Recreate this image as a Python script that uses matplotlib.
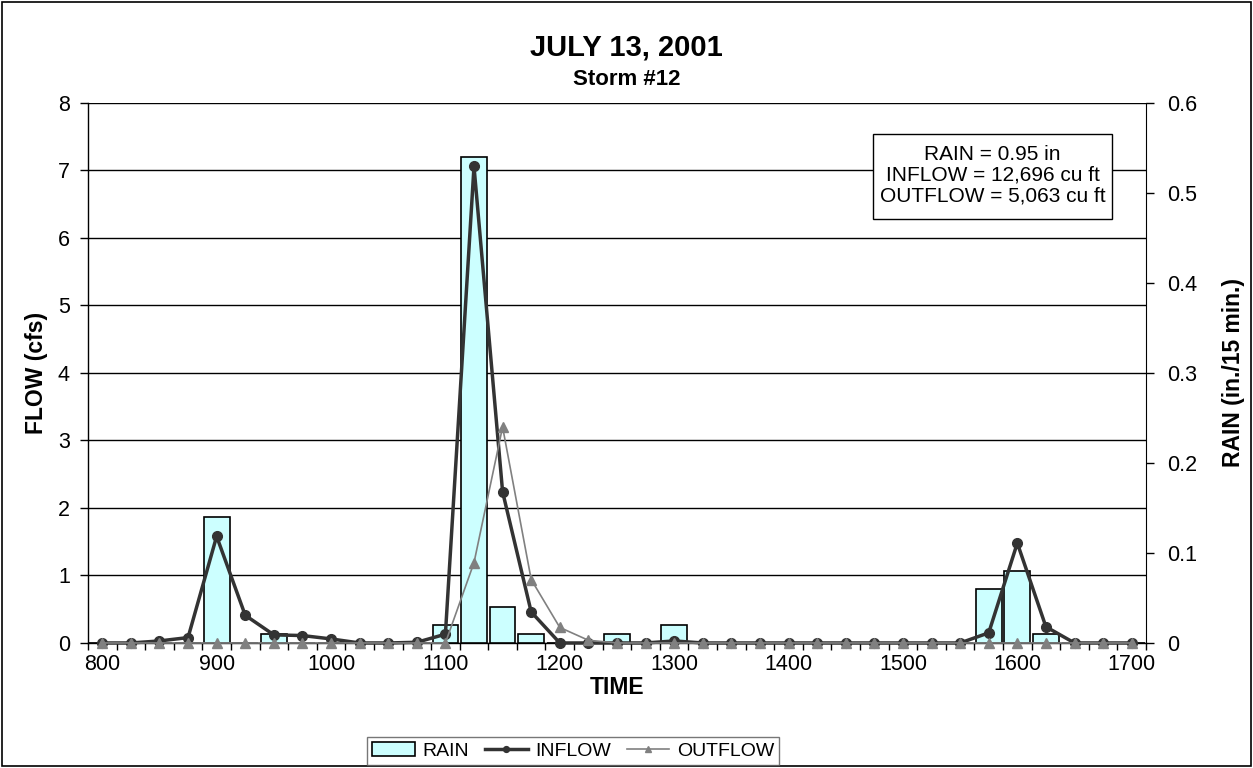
import numpy as np
import matplotlib.pyplot as plt
from matplotlib.patches import Rectangle

plt.rcParams['font.family'] = ['Liberation Sans', 'DejaVu Sans']

# 15-minute time steps (HHMM)
times = [800, 815, 830, 845, 900, 915, 930, 945, 1000, 1015, 1030, 1045,
         1100, 1115, 1130, 1145, 1200, 1215, 1230, 1245, 1300, 1315, 1330, 1345,
         1400, 1415, 1430, 1445, 1500, 1515, 1530, 1545, 1600, 1615, 1630, 1645,
         1700]
# rain in in./15 min
rain = [0, 0, 0, 0, 0.14, 0, 0.01, 0, 0, 0, 0, 0,
        0.02, 0.54, 0.04, 0.01, 0, 0, 0.01, 0, 0.02, 0, 0, 0,
        0, 0, 0, 0, 0, 0, 0, 0.06, 0.08, 0.01, 0, 0,
        0]
# flows in cfs
inflow = [0, 0, 0.03, 0.08, 1.58, 0.41, 0.12, 0.11, 0.06, 0, 0, 0.01,
          0.13, 7.06, 2.24, 0.46, 0, 0, 0, 0, 0.03, 0, 0, 0,
          0, 0, 0, 0, 0, 0, 0, 0.15, 1.48, 0.24, 0, 0,
          0]
outflow = [0, 0, 0, 0, 0, 0, 0, 0, 0, 0, 0, 0,
           0, 1.19, 3.2, 0.94, 0.23, 0.04, 0, 0, 0, 0, 0, 0,
           0, 0, 0, 0, 0, 0, 0, 0, 0, 0, 0, 0,
           0]
summary = 'RAIN = 0.95 in\nINFLOW = 12,696 cu ft\nOUTFLOW = 5,063 cu ft'

x = np.arange(len(times))

fig = plt.figure(figsize=(12.53, 7.68), dpi=100)
ax1 = fig.add_axes([0.0702, 0.1628, 0.8444, 0.7031])

# left axis: grid + ticks
ax1.set_xlim(-0.5, len(times) - 0.5)
ax1.set_ylim(0, 8)
ax1.set_yticks(range(0, 9))
ax1.yaxis.grid(True, color='black', linewidth=1)
ax1.set_axisbelow(True)
ax1.set_xticks(x[::4])
ax1.set_xticklabels([str(t) for t in times[::4]])
ax1.set_xticks(np.arange(-0.5, len(times), 1), minor=True)
ax1.tick_params(axis='x', which='major', length=0, pad=8, labelsize=15.5)
ax1.tick_params(axis='x', which='minor', length=5, width=1, direction='out')
ax1.tick_params(axis='y', length=6, width=1, labelsize=15.5, pad=7)
for s in ['top', 'right']:
    ax1.spines[s].set_visible(False)
ax1.spines['left'].set_linewidth(1)
ax1.spines['bottom'].set_linewidth(1)
ax1.set_ylabel('FLOW (cfs)', fontsize=16.5, fontweight='bold')
ax1.yaxis.set_label_coords(-0.038, 0.5)
ax1.set_xlabel('TIME', fontsize=16.5, fontweight='bold')
ax1.xaxis.set_label_coords(0.5, -0.062)

# right axis: rain bars
ax2 = ax1.twinx()
ax2.set_ylim(0, 0.6)
ax2.set_yticks([0, 0.1, 0.2, 0.3, 0.4, 0.5, 0.6])
ax2.set_yticklabels(['0', '0.1', '0.2', '0.3', '0.4', '0.5', '0.6'])
ax2.tick_params(axis='y', length=6, width=1, labelsize=15.5, pad=9)
bars = ax2.bar(x, rain, width=0.9, color='#CCFFFF', edgecolor='black',
               linewidth=1.2, label='RAIN')
for s in ['top', 'left', 'bottom']:
    ax2.spines[s].set_visible(False)
ax2.set_ylabel('RAIN (in./15 min.)', fontsize=16.5, fontweight='bold')
ax2.yaxis.set_label_coords(1.072, 0.5)

# top layer: flow lines
ax3 = ax1.twinx()
ax3.set_ylim(0, 8)
ax3.axis('off')
l1, = ax3.plot(x, inflow, color='#333333', linewidth=2.5, marker='o',
               markersize=7, label='INFLOW', clip_on=False, zorder=3)
l2, = ax3.plot(x, outflow, color='#808080', linewidth=1.2, marker='^',
               markersize=7, label='OUTFLOW', clip_on=False, zorder=4)

# summary box
ax3.add_patch(Rectangle((0.742, 0.785), 0.226, 0.1576, transform=ax3.transAxes,
                        facecolor='white', edgecolor='black', linewidth=1,
                        zorder=5))
ax3.text(0.855, 0.866, summary, transform=ax3.transAxes, ha='center',
         va='center', fontsize=15, linespacing=1.12, zorder=6)

fig.text(0.5, 0.938, 'JULY 13, 2001', ha='center', va='center',
         fontsize=21, fontweight='bold')
fig.text(0.5, 0.896, 'Storm #12', ha='center', va='center',
         fontsize=16, fontweight='bold')

leg = fig.legend([bars, l1, l2], ['RAIN', 'INFLOW', 'OUTFLOW'],
                 loc='center', bbox_to_anchor=(0.4575, 0.022), ncol=3,
                 fontsize=14, frameon=True, fancybox=False,
                 edgecolor='#555555', handlelength=2.2, handletextpad=0.4,
                 columnspacing=0.8, borderpad=0.25, markerscale=0.6)
leg.get_frame().set_linewidth(1)

fig.patches.append(Rectangle((0.0015, 0.002), 0.997, 0.995,
                             transform=fig.transFigure, fill=False,
                             edgecolor='black', linewidth=1.2))

fig.savefig('out.png', dpi=100)
